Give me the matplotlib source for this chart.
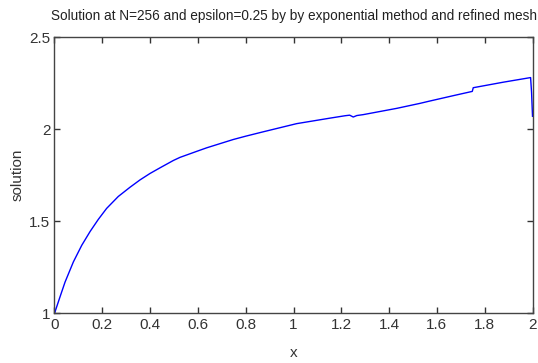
import matplotlib
matplotlib.use("Agg")
from matplotlib import pyplot as plt

# solution samples along the refined mesh
x_vals = [0.0, 0.005, 0.023, 0.044, 0.079, 0.114, 0.149, 0.183, 0.218, 0.267,
          0.316, 0.358, 0.4, 0.441, 0.497, 0.525, 0.6, 0.637, 0.706, 0.748,
          0.8, 0.874, 1.013, 1.153, 1.216, 1.235, 1.25, 1.265, 1.292,
          1.432, 1.529, 1.568, 1.669, 1.748, 1.752, 1.878, 1.992, 1.996, 2.0]
y_vals = [1.0, 1.02, 1.09, 1.17, 1.28, 1.37, 1.445, 1.51, 1.57, 1.635,
          1.685, 1.725, 1.76, 1.79, 1.83, 1.847, 1.882, 1.899, 1.927, 1.944,
          1.962, 1.986, 2.03, 2.06, 2.073, 2.076, 2.066, 2.074, 2.079,
          2.113, 2.14, 2.152, 2.182, 2.205, 2.225, 2.255, 2.28, 2.2, 2.07]

x_ticks = [0, 0.2, 0.4, 0.6, 0.8, 1, 1.2, 1.4, 1.6, 1.8, 2]
x_tick_labels = ["0", "0.2", "0.4", "0.6", "0.8", "1", "1.2", "1.4", "1.6", "1.8", "2"]
y_ticks = [1, 1.5, 2, 2.5]
y_tick_labels = ["1", "1.5", "2", "2.5"]

plt.rcParams["font.family"] = ["Liberation Sans", "DejaVu Sans"]

text_color = "#333333"

fig = plt.figure(figsize=(5.38, 3.63), dpi=100)
ax = fig.add_axes([0.1013, 0.1364, 0.8885, 0.7616])

ax.plot(x_vals, y_vals, color="#0000ff", linewidth=1.0)

ax.set_xlim(0, 2)
ax.set_ylim(1, 2.5)
ax.set_xticks(x_ticks)
ax.set_xticklabels(x_tick_labels)
ax.set_yticks(y_ticks)
ax.set_yticklabels(y_tick_labels)

ax.tick_params(direction="in", length=4, width=1, top=True, right=True,
               labelsize=11, colors=text_color, pad=3)
for spine in ax.spines.values():
    spine.set_color("#444444")
    spine.set_linewidth(1.0)

ax.set_title("Solution at N=256 and epsilon=0.25 by by exponential method and refined mesh",
             fontsize=9.8, color="#222222", pad=12)
ax.set_xlabel("x", fontsize=11, color=text_color, labelpad=10)
ax.set_ylabel("solution", fontsize=11, color=text_color, labelpad=3)

fig.savefig("out.png", dpi=100)
